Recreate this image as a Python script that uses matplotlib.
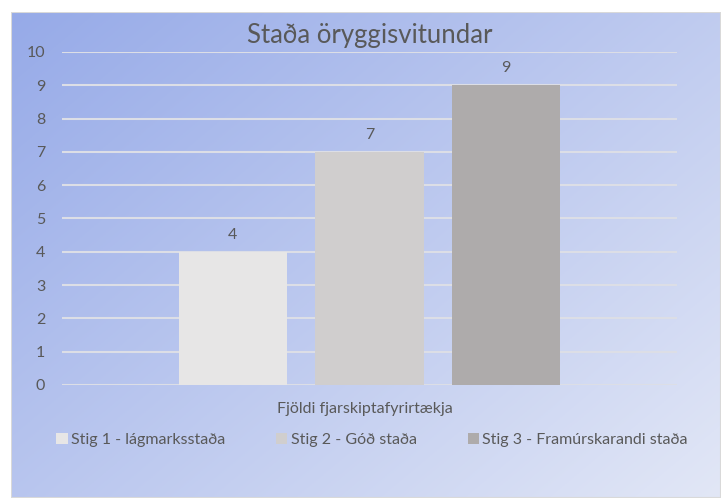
import numpy as np
import matplotlib.pyplot as plt
from matplotlib.patches import Rectangle

title = "Staða öryggisvitundar"
category = "Fjöldi fjarskiptafyrirtækja"
series = ["Stig 1 - lágmarksstaða", "Stig 2 - Góð staða", "Stig 3 - Framúrskarandi staða"]
values = [4, 7, 9]
colors = ["#e7e6e6", "#d0cece", "#aeabab"]

plt.rcParams["font.family"] = ["Lato", "DejaVu Sans"]
txt = "#595959"

fig = plt.figure(figsize=(7.21, 4.98), dpi=100)

# gradient background of the chart area
bg = fig.add_axes([11 / 721, 0, 1 - 11 / 721, 1 - 12 / 498])
bg.set_axis_off()
yy, xx = np.mgrid[0:1:200j, 0:1:300j]
t = np.clip((xx * 0.55 + yy * 0.45), 0, 1)
c0 = np.array([150, 170, 232]) / 255
c1 = np.array([226, 231, 246]) / 255
img = c0[None, None, :] * (1 - t[..., None]) + c1[None, None, :] * t[..., None]
bg.imshow(img, aspect="auto", extent=[0, 1, 0, 1], origin="upper")
bg.add_patch(Rectangle((0, 0), 1, 1, transform=bg.transAxes, fill=False,
                       edgecolor="#d9d9d9", lw=1.5))

ax = fig.add_axes([62 / 721, 1 - 385 / 498, 615 / 721, 333 / 498])
ax.patch.set_alpha(0)
width = 0.177
offsets = [-0.222, 0.0, 0.222]
for name, v, c, off in zip(series, values, colors, offsets):
    ax.bar(off, v, width, color=c, label=name, zorder=3)
    ax.text(off, v + 0.3, str(v), ha="center", va="bottom", fontsize=11.5, color=txt)

ax.set_xlim(-0.5, 0.5)
ax.set_ylim(0, 10)
ax.set_yticks(range(0, 11))
ax.yaxis.grid(True, color="#dcdee6", lw=1.5, zorder=0)
ax.set_axisbelow(True)
for s in ax.spines.values():
    s.set_visible(False)
ax.tick_params(axis="y", length=0, labelsize=11.5, labelcolor=txt, pad=12)
ax.set_xticks([])

fig.text(370 / 721, 1 - 35 / 498, title, ha="center", va="center", fontsize=18.5, color=txt)
fig.text(365 / 721, 1 - 409 / 498, category, ha="center", va="center", fontsize=11.5, color=txt)

fig.legend(loc="center", bbox_to_anchor=(372 / 721, 1 - 440 / 498), ncol=3,
           frameon=False, fontsize=11.5, labelcolor=txt, handlelength=0.7,
           handleheight=0.7, handletextpad=0.2, columnspacing=3.2)

fig.savefig("out.png", dpi=100)
